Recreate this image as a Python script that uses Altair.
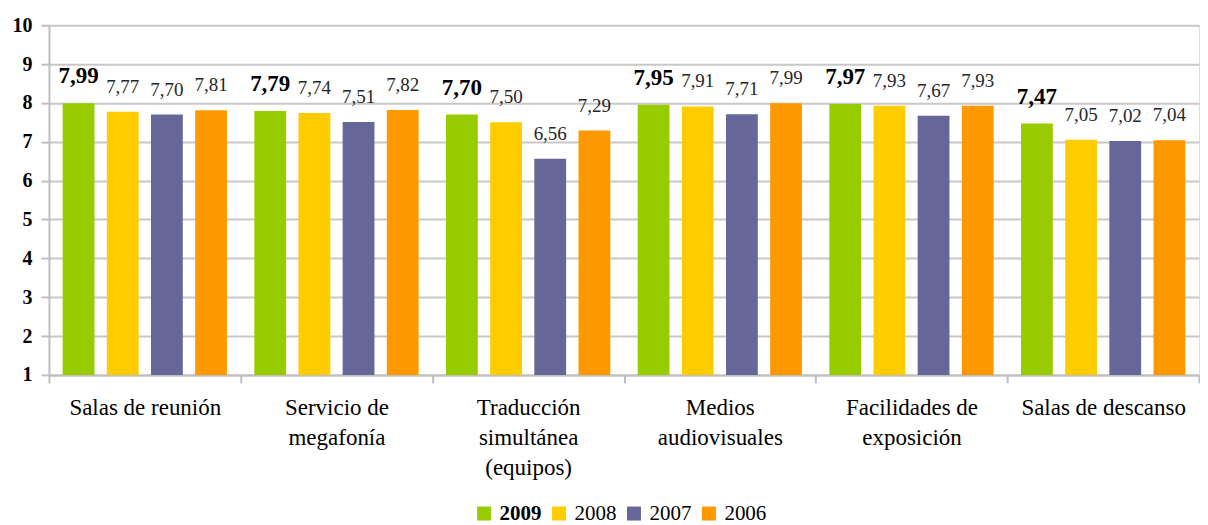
import altair as alt
import pandas as pd

categories = ["Salas de reunión", "Servicio de|megafonía", "Traducción|simultánea|(equipos)",
              "Medios|audiovisuales", "Facilidades de|exposición", "Salas de descanso"]
years = ["2009", "2008", "2007", "2006"]
v2009 = [7.99, 7.79, 7.70, 7.95, 7.97, 7.47]
v2008 = [7.77, 7.74, 7.50, 7.91, 7.93, 7.05]
v2007 = [7.70, 7.51, 6.56, 7.71, 7.67, 7.02]
v2006 = [7.81, 7.82, 7.29, 7.99, 7.93, 7.04]
colors = ["#99CC00", "#FFCC00", "#666699", "#FF9900"]

series = {"2009": v2009, "2008": v2008, "2007": v2007, "2006": v2006}
rows = []
for y in years:
    for c, v in zip(categories, series[y]):
        rows.append({"cat": c, "year": y, "value": v})
df = pd.DataFrame(rows)

FONT = "Liberation Serif"

x = alt.X("cat:N", sort=categories, title=None,
          scale=alt.Scale(paddingInner=0, paddingOuter=0),
          axis=alt.Axis(labelExpr="split(datum.label, '|')", labelAngle=0,
                        labelFont=FONT, labelFontSize=23, labelColor="#000000",
                        labelLineHeight=30, labelPadding=14, labelLimit=400,
                        tickBand="extent", tickSize=8, tickColor="#BFBFBF", tickWidth=2,
                        domainColor="#BFBFBF", domainWidth=2, grid=False))
xo = alt.XOffset("year:N", sort=years,
                 scale=alt.Scale(paddingInner=0.28, paddingOuter=0.31))
yenc = alt.Y("value:Q", title=None,
             scale=alt.Scale(domain=[1, 10], nice=False, zero=False),
             axis=alt.Axis(values=list(range(1, 11)), format="d", labelOverlap=False,
                           labelFont=FONT, labelFontSize=20, labelFontWeight="bold",
                           labelColor="#000000", labelPadding=9,
                           tickSize=8, tickColor="#BFBFBF", tickWidth=2,
                           domainColor="#BFBFBF", domainWidth=2,
                           grid=True, gridColor="#C8C8C8", gridWidth=2))

base = alt.Chart(df).encode(x=x, xOffset=xo, y=yenc)

bars = base.mark_bar().encode(
    y2=alt.datum(1),
    color=alt.Color("year:N", sort=years,
                    scale=alt.Scale(domain=years, range=colors),
                    legend=alt.Legend(title=None, orient="none", direction="horizontal",
                                      legendX=425, legendY=478,
                                      symbolType="square", symbolSize=196,
                                      symbolStrokeWidth=0, labelFont=FONT,
                                      labelFontSize=21, labelColor="#000000",
                                      labelFontWeight=alt.ExprRef("datum.label == '2009' ? 'bold' : 'normal'"),
                                      labelOffset=5, columnPadding=7)),
)

lbl = base.transform_calculate(
    txt="replace(format(datum.value, '.2f'), '.', ',')"
)
text_bold = lbl.transform_filter("datum.year == '2009'").mark_text(
    font=FONT, fontSize=23, fontWeight="bold", color="#000000",
    baseline="alphabetic", dy=-20
).encode(text="txt:N")
text_norm = lbl.transform_filter("datum.year != '2009'").mark_text(
    font=FONT, fontSize=19, color="#262626",
    baseline="alphabetic", dy=-19
).encode(text="txt:N")

chart = alt.layer(bars, text_bold, text_norm).properties(
    width=1151, height=350,
    padding={"left": 4, "top": 7, "right": 0, "bottom": 0},
).configure_view(stroke=None).configure(background="white")

chart.save("out.html", embed_options={"renderer": "svg", "actions": False})
